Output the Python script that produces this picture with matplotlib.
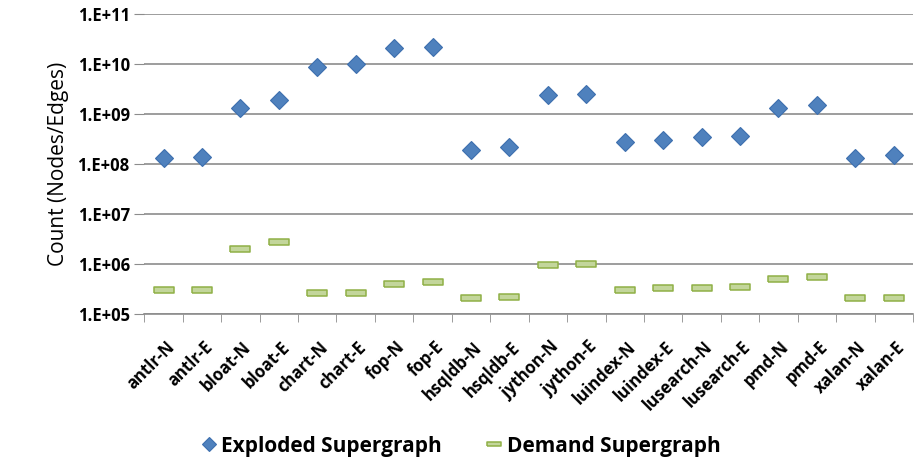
import matplotlib.pyplot as plt
import matplotlib.transforms as mtransforms
import numpy as np
from matplotlib.ticker import FixedLocator, FuncFormatter

plt.rcParams['font.family'] = ['Open Sans', 'DejaVu Sans']

labels = ['antlr-N', 'antlr-E', 'bloat-N', 'bloat-E', 'chart-N', 'chart-E',
          'fop-N', 'fop-E', 'hsqldb-N', 'hsqldb-E', 'jython-N', 'jython-E',
          'luindex-N', 'luindex-E', 'lusearch-N', 'lusearch-E', 'pmd-N', 'pmd-E',
          'xalan-N', 'xalan-E']

exploded = [1.3e8, 1.4e8, 1.3e9, 1.9e9, 8.6e9, 1.0e10, 2.1e10, 2.2e10,
            1.9e8, 2.2e8, 2.36e9, 2.5e9, 2.7e8, 3.0e8, 3.5e8, 3.7e8,
            1.3e9, 1.5e9, 1.3e8, 1.5e8]

demand = [3.0e5, 3.0e5, 2.0e6, 2.8e6, 2.6e5, 2.6e5, 4.0e5, 4.3e5,
          2.1e5, 2.2e5, 9.5e5, 1.0e6, 3.0e5, 3.3e5, 3.3e5, 3.5e5,
          5.1e5, 5.6e5, 2.1e5, 2.1e5]

x = np.arange(len(labels))

fig = plt.figure(figsize=(9.19, 4.66), dpi=100)
ax = fig.add_axes([0.157, 0.326, 0.8365, 0.644])

# flat dash marker for the demand series
dash = [(-1, -0.28), (1, -0.28), (1, 0.28), (-1, 0.28), (-1, -0.28)]

ax.plot(x, exploded, linestyle='none', marker='D', markersize=9.5,
        markerfacecolor='#4f81bd', markeredgecolor='#3d6fae', markeredgewidth=0.8,
        label='Exploded Supergraph', zorder=3)
ax.plot(x, demand, linestyle='none', marker=dash, markersize=14,
        markerfacecolor='#c3d69b', markeredgecolor='#8fb046', markeredgewidth=1.1,
        label='Demand Supergraph', zorder=3)

ax.set_yscale('log')
ax.set_ylim(1e5, 1e11)
ax.set_xlim(-0.5, len(labels) - 0.5)
ax.yaxis.set_major_locator(FixedLocator([10.0 ** k for k in range(5, 12)]))
ax.yaxis.set_minor_locator(FixedLocator([]))
ax.yaxis.set_major_formatter(FuncFormatter(lambda v, p: '1.E+%02d' % int(round(np.log10(v)))))
ax.grid(axis='y', color='#8c8c8c', linewidth=1.2)
ax.set_axisbelow(True)

ax.set_xticks(x)
ax.set_xticks(np.arange(-0.5, len(labels)), minor=True)
ax.tick_params(axis='x', which='major', length=0, pad=6)
ax.tick_params(axis='x', which='minor', length=6, color='#8c8c8c')
ax.tick_params(axis='y', length=7, color='#8c8c8c', labelsize=12)
ax.set_xticklabels(labels, rotation=45, ha='right', va='center', rotation_mode='anchor',
                   fontsize=12, fontweight='bold')
# push the slanted labels down and a bit right (after tick_params, which resets transforms)
shift = mtransforms.ScaledTranslation(0.08, -0.22, fig.dpi_scale_trans)
for t in ax.get_xticklabels():
    t.set_transform(t.get_transform() + shift)
for t in ax.get_yticklabels():
    t.set_fontweight('bold')

for side in ['left', 'right', 'top']:
    ax.spines[side].set_visible(False)
ax.spines['bottom'].set_color('#8c8c8c')
ax.spines['bottom'].set_linewidth(1.2)

ax.set_ylabel('Count (Nodes/Edges)', fontsize=15, labelpad=6)

fig.legend(loc='lower center', bbox_to_anchor=(0.5, -0.02), ncol=2, frameon=False,
           prop={'size': 15, 'weight': 'bold'}, handletextpad=0.1, columnspacing=2.0,
           handlelength=1.0, markerscale=0.75)

fig.savefig('out.png', dpi=100)
